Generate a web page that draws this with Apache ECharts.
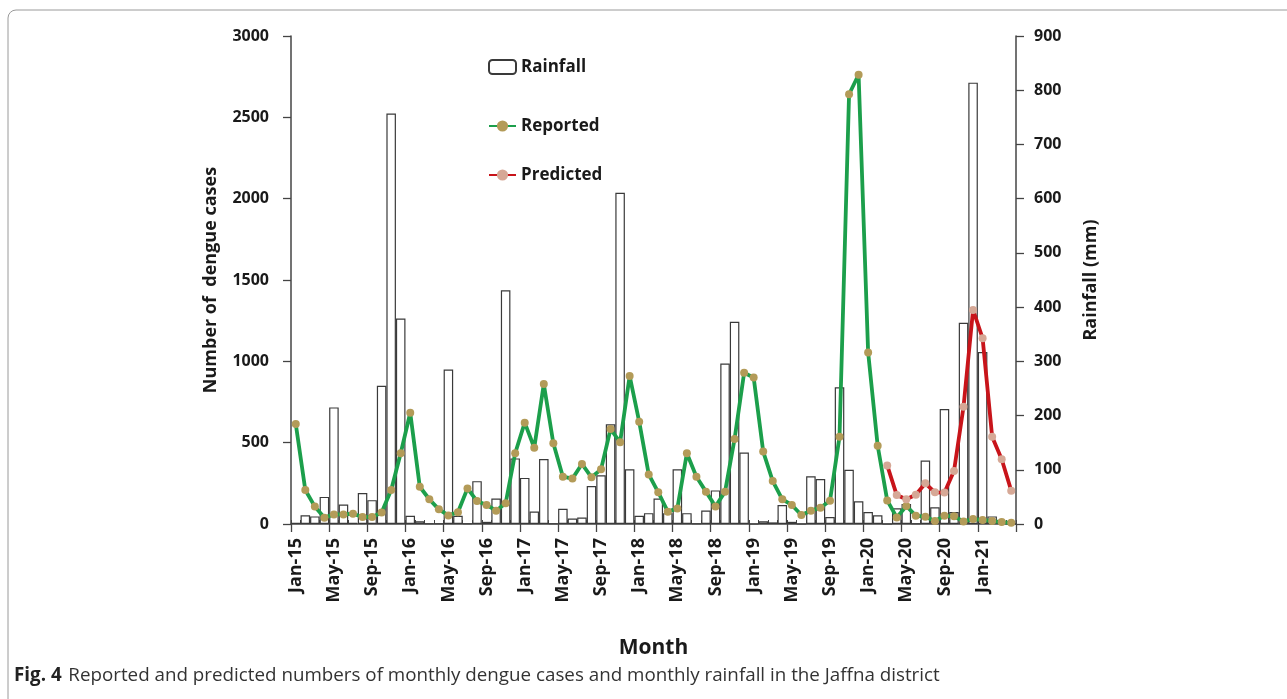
<!DOCTYPE html>
<html>
<head>
<meta charset="utf-8">
<script src="https://cdn.jsdelivr.net/npm/echarts@6/dist/echarts.min.js"></script>
<style>
html,body{margin:0;padding:0;background:#fff;}
#chart{width:1287px;height:699px;}
</style>
</head>
<body>
<div id="chart"></div>
<script>
const categories = [
 'Jan-15','Feb-15','Mar-15','Apr-15','May-15','Jun-15','Jul-15','Aug-15','Sep-15','Oct-15','Nov-15','Dec-15',
 'Jan-16','Feb-16','Mar-16','Apr-16','May-16','Jun-16','Jul-16','Aug-16','Sep-16','Oct-16','Nov-16','Dec-16',
 'Jan-17','Feb-17','Mar-17','Apr-17','May-17','Jun-17','Jul-17','Aug-17','Sep-17','Oct-17','Nov-17','Dec-17',
 'Jan-18','Feb-18','Mar-18','Apr-18','May-18','Jun-18','Jul-18','Aug-18','Sep-18','Oct-18','Nov-18','Dec-18',
 'Jan-19','Feb-19','Mar-19','Apr-19','May-19','Jun-19','Jul-19','Aug-19','Sep-19','Oct-19','Nov-19','Dec-19',
 'Jan-20','Feb-20','Mar-20','Apr-20','May-20','Jun-20','Jul-20','Aug-20','Sep-20','Oct-20','Nov-20','Dec-20',
 'Jan-21','Feb-21','Mar-21','Apr-21'
];
// Monthly rainfall (mm), right axis
const rainfall = [
 2,16,14,50,215,36,2,57,44,255,757,379,
 15,5,1,1,285,15,1,79,4,47,431,121,
 85,23,120,1,28,10,12,70,90,184,611,101,
 15,20,47,20,101,20,1,25,62,296,373,132,
 0,5,3,35,4,0,88,83,13,252,100,42,
 22,16,0,29,37,1,117,31,212,22,371,814,
 317,14,4,0
];
// Reported dengue cases, left axis
const reported = [
 615,209,107,39,59,59,63,43,43,70,209,435,
 684,229,152,90,53,72,219,141,117,82,127,435,
 623,469,861,496,291,279,369,287,336,584,502,910,
 629,305,195,76,96,435,291,199,107,199,523,930,
 900,445,264,152,117,55,82,100,143,537,2642,2762,
 1055,481,145,40,111,51,44,19,50,47,16,30,
 25,18,12,7
];
// Predicted dengue cases (from Mar-20), left axis
const predicted = [
 null,null,null,null,null,null,null,null,null,null,null,null,
 null,null,null,null,null,null,null,null,null,null,null,null,
 null,null,null,null,null,null,null,null,null,null,null,null,
 null,null,null,null,null,null,null,null,null,null,null,null,
 null,null,null,null,null,null,null,null,null,null,null,null,
 null,null,360,178,152,180,250,195,193,326,721,1316,
 1142,537,398,205
];
const leftTicks = {min:0, max:3000, interval:500};
const rightTicks = {min:0, max:900, interval:100};

const FONT = '"Open Sans", "DejaVu Sans", sans-serif';
const TXT = '#1a1a1a';
const AX = '#444';

const chart = echarts.init(document.getElementById('chart'), null, {renderer:'canvas'});
const legendText = {fontFamily:FONT, fontWeight:'bold', fontSize:17, color:TXT, lineHeight:20};
const plain = v => String(v);
chart.setOption({
  animation:false,
  backgroundColor:'#fff',
  grid:{left:291, right:271, top:36, bottom:175, containLabel:false},
  legend:[
    {data:['Rainfall'], left:488, top:57, padding:0, itemWidth:27, itemHeight:14, itemGap:4, textStyle:legendText, selectedMode:false},
    {data:['Reported'], left:488, top:116, padding:0, itemWidth:27, itemHeight:14, itemGap:4, textStyle:legendText, selectedMode:false},
    {data:['Predicted'], left:488, top:165, padding:0, itemWidth:27, itemHeight:14, itemGap:4, textStyle:legendText, selectedMode:false}
  ],
  xAxis:[
    {type:'category', data:categories, boundaryGap:true, position:'bottom',
     name:'Month', nameLocation:'middle', nameGap:114,
     nameTextStyle:{fontFamily:FONT, fontWeight:'bold', fontSize:21, color:TXT},
     axisLine:{show:true, lineStyle:{color:AX, width:1.5}},
     axisTick:{show:true, interval:3, length:8, inside:false, lineStyle:{color:AX, width:1.3}},
     axisLabel:{interval:3, rotate:90, margin:14, fontFamily:FONT, fontWeight:'bold', fontSize:18, color:TXT},
     splitLine:{show:false}},
    {type:'category', data:categories, boundaryGap:true, position:'bottom',
     axisLine:{show:false},
     axisTick:{show:true, interval:0, length:4, inside:true, lineStyle:{color:AX, width:1}},
     axisLabel:{show:false}, splitLine:{show:false}}
  ],
  yAxis:[
    {type:'value', min:leftTicks.min, max:leftTicks.max, interval:leftTicks.interval, position:'left',
     name:'Number of  dengue cases', nameLocation:'middle', nameGap:71, nameRotate:90,
     nameTextStyle:{fontFamily:FONT, fontWeight:'bold', fontSize:18, color:TXT},
     axisLine:{show:true, lineStyle:{color:AX, width:1.5}},
     axisTick:{show:true, length:8, lineStyle:{color:AX, width:1.3}},
     axisLabel:{margin:22, formatter:plain, fontFamily:FONT, fontWeight:'bold', fontSize:16, color:TXT},
     splitLine:{show:false}},
    {type:'value', min:rightTicks.min, max:rightTicks.max, interval:rightTicks.interval, position:'right',
     name:'Rainfall (mm)', nameLocation:'middle', nameGap:66, nameRotate:90,
     nameTextStyle:{fontFamily:FONT, fontWeight:'bold', fontSize:18, color:TXT},
     axisLine:{show:true, lineStyle:{color:AX, width:1.5}},
     axisTick:{show:true, length:8, lineStyle:{color:AX, width:1.3}},
     axisLabel:{margin:18, formatter:plain, fontFamily:FONT, fontWeight:'bold', fontSize:16, color:TXT},
     splitLine:{show:false}}
  ],
  series:[
    {name:'Rainfall', type:'bar', xAxisIndex:0, yAxisIndex:1, data:rainfall,
     barCategoryGap:'0%', z:1,
     itemStyle:{color:'#ffffff', borderColor:'#3a3a3a', borderWidth:1.2}},
    {name:'Reported', type:'line', xAxisIndex:0, yAxisIndex:0, data:reported, z:3,
     symbol:'circle', symbolSize:8, showSymbol:true, showAllSymbol:true,
     lineStyle:{color:'#1c9f4b', width:3.8},
     itemStyle:{color:'#b39b58', borderWidth:0}},
    {name:'Predicted', type:'line', xAxisIndex:0, yAxisIndex:0, data:predicted, z:4,
     symbol:'circle', symbolSize:8, showSymbol:true, showAllSymbol:true, connectNulls:false,
     lineStyle:{color:'#c8141a', width:3.8},
     itemStyle:{color:'#d6a896', borderWidth:0}}
  ],
  graphic:[
    {type:'rect', shape:{x:8, y:10, width:1320, height:720, r:8},
     style:{fill:'none', stroke:'#9a9a9a', lineWidth:1}, z:-10, silent:true},
    {type:'text', left:14, top:666,
     style:{text:'{b|Fig. 4}  {n|Reported and predicted numbers of monthly dengue cases and monthly rainfall in the Jaffna district}',
       rich:{
         b:{fontFamily:FONT, fontWeight:'bold', fontSize:18.8, fill:'#222'},
         n:{fontFamily:FONT, fontSize:18.8, fill:'#333'}
       }}}
  ]
});
</script>
</body>
</html>
